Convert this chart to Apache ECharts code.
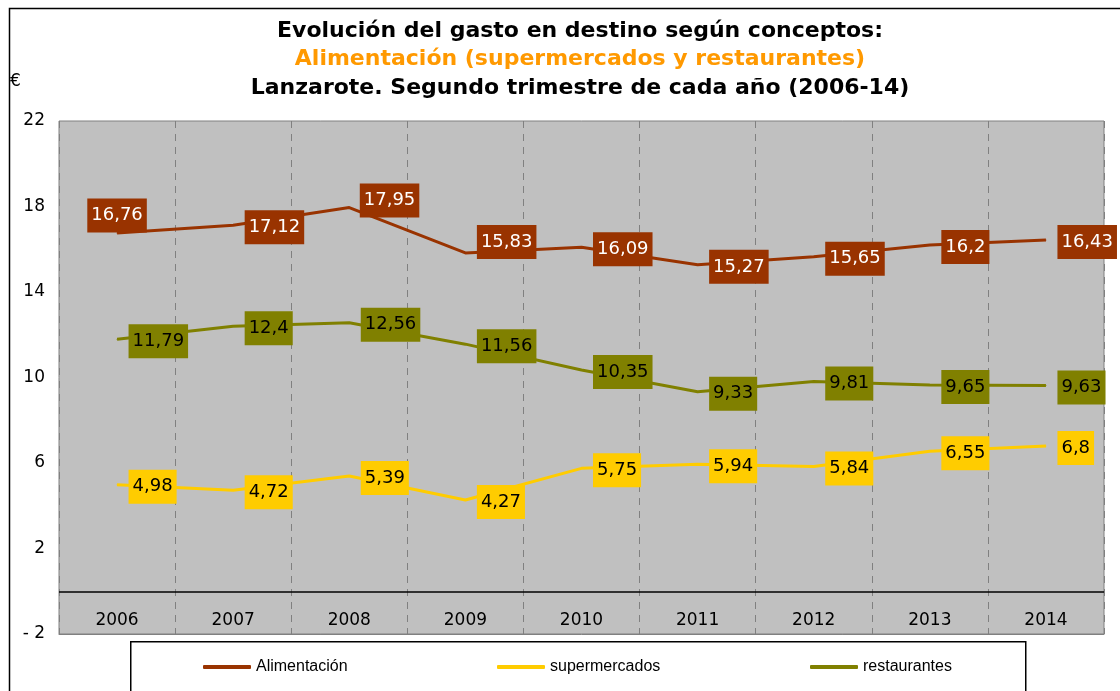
<!DOCTYPE html>
<html>
<head>
<meta charset="utf-8">
<script src="https://cdn.jsdelivr.net/npm/echarts@6/dist/echarts.min.js"></script>
<style>
  html, body { margin: 0; padding: 0; background: #fff; }
  #chart { width: 1120px; height: 691px; }
</style>
</head>
<body>
<div id="chart"></div>
<script>
const years = ['2006', '2007', '2008', '2009', '2010', '2011', '2012', '2013', '2014'];
const alimentacion = [16.76, 17.12, 17.95, 15.83, 16.09, 15.27, 15.65, 16.2, 16.43];
const supermercados = [4.98, 4.72, 5.39, 4.27, 5.75, 5.94, 5.84, 6.55, 6.8];
const restaurantes = [11.79, 12.4, 12.56, 11.56, 10.35, 9.33, 9.81, 9.65, 9.63];
const yTicks = { min: -2, max: 22, step: 4 };

const font = 'DejaVu Sans, Verdana, sans-serif';

function comma(v) {
    return String(v).replace('.', ',');
}

// label tweaks per point (index -> label options), mostly labels sit right of the point
function makeSeries(name, values, color, textColor, special) {
    return {
        name: name,
        type: 'line',
        data: values.map((v, i) => {
            const item = { value: v };
            if (special && special[i]) item.label = special[i];
            return item;
        }),
        symbol: 'circle',
        symbolSize: 1,
        showSymbol: true,
        itemStyle: { color: color },
        lineStyle: { color: color, width: 3 },
        label: {
            show: true,
            position: 'right',
            distance: 11,
            offset: [0, 2],
            formatter: p => comma(p.value),
            backgroundColor: color,
            color: textColor,
            padding: [6, 4, 6, 4],
            fontFamily: font,
            fontSize: 18,
            lineHeight: 22
        },
        emphasis: { disabled: true },
        z: 3
    };
}

var chart = echarts.init(document.getElementById('chart'));

var option = {
    animation: false,
    backgroundColor: '#fff',
    title: {
        text: '{a|Evolución del gasto en destino según conceptos:}\n{b|Alimentación (supermercados y restaurantes)}\n{a|Lanzarote. Segundo trimestre de cada año (2006-14)}',
        left: 575,
        textAlign: 'center',
        top: 12,
        textStyle: {
            rich: {
                a: { fontFamily: font, fontWeight: 'bold', fontSize: 22, color: '#000', lineHeight: 28.5 },
                b: { fontFamily: font, fontWeight: 'bold', fontSize: 22, color: '#FF9900', lineHeight: 28.5 }
            }
        }
    },
    graphic: [
        { type: 'rect', left: 7, top: 6, shape: { width: 1200, height: 800 }, style: { fill: 'none', stroke: '#000', lineWidth: 1.5 }, silent: true },
        { type: 'rect', left: 130, top: 641, shape: { width: 895, height: 80 }, style: { fill: '#fff', stroke: '#000', lineWidth: 1.5 }, silent: true, z: -1 },
        { type: 'text', left: 10, top: 73, style: { text: '€', font: '17px DejaVu Sans', fill: '#000' } }
    ],
    legend: [
        { data: ['Alimentación'], left: 203, top: 659 },
        { data: ['supermercados'], left: 497, top: 659 },
        { data: ['restaurantes'], left: 810, top: 659 }
    ].map(l => Object.assign(l, {
        icon: 'roundRect',
        itemWidth: 48,
        itemHeight: 4,
        padding: 0,
        textStyle: { fontFamily: 'Liberation Sans, Arial, sans-serif', fontSize: 16, color: '#000' }
    })),
    grid: {
        left: 59,
        right: 16,
        top: 121,
        bottom: 57,
        show: true,
        backgroundColor: '#C0C0C0',
        borderColor: '#808080',
        borderWidth: 1
    },
    xAxis: {
        type: 'category',
        data: years,
        boundaryGap: true,
        axisLine: { onZero: false, lineStyle: { color: '#808080', width: 1 } },
        axisTick: { show: false },
        axisLabel: { inside: true, margin: 5, fontFamily: font, fontSize: 17, color: '#000' },
        splitLine: { show: true, lineStyle: { color: '#808080', type: [7, 6], width: 1 } }
    },
    yAxis: {
        type: 'value',
        min: yTicks.min,
        max: yTicks.max,
        interval: yTicks.step,
        axisLine: { show: false },
        axisTick: { show: false },
        splitLine: { show: false },
        axisLabel: {
            margin: 14,
            fontFamily: font,
            fontSize: 17,
            color: '#000',
            formatter: v => String(v).replace('-', '- ')
        }
    },
    series: [
        Object.assign(makeSeries('Alimentación', alimentacion, '#993300', '#fff', {
            0: { position: 'top', distance: 0, offset: [0, 0] },
            2: { distance: 10, offset: [0, -7] },
            3: { offset: [0, -11] }
        }), {
            markLine: {
                silent: true,
                symbol: 'none',
                label: { show: false },
                lineStyle: { color: '#000', width: 1.5, type: 'solid' },
                data: [{ yAxis: 0 }],
                z: 2
            }
        }),
        makeSeries('supermercados', supermercados, '#FFCC00', '#000'),
        makeSeries('restaurantes', restaurantes, '#808000', '#000')
    ]
};

chart.setOption(option);
</script>
</body>
</html>
